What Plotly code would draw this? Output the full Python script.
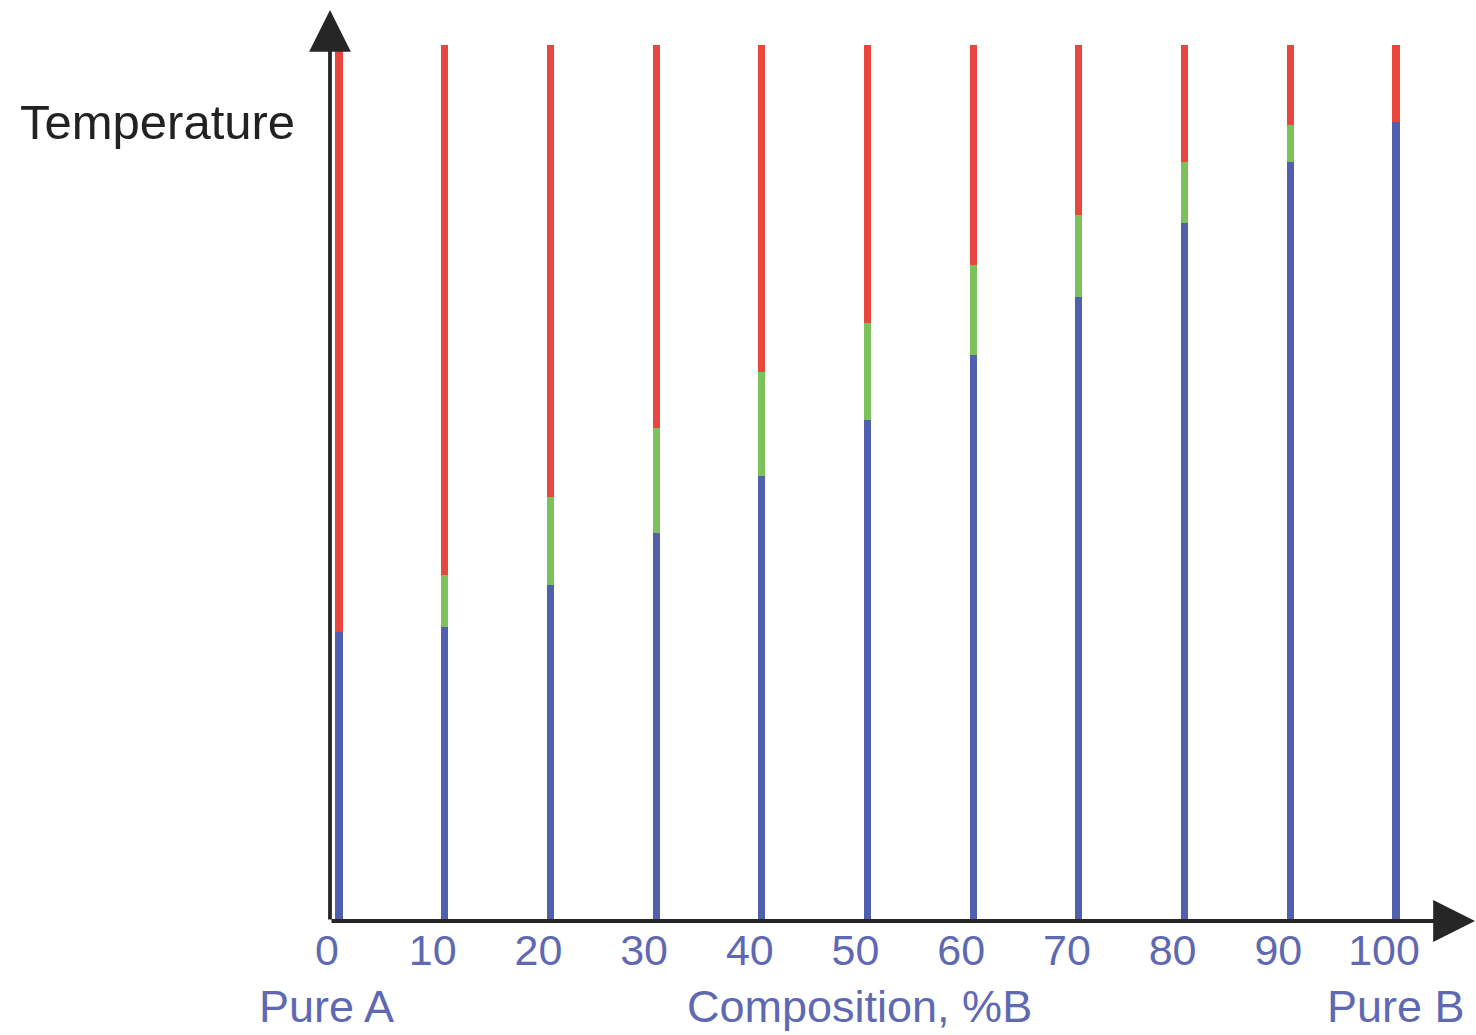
import plotly.graph_objects as go

# Composition of each alloy, % B
composition = [0, 10, 20, 30, 40, 50, 60, 70, 80, 90, 100]
# Solidus (start of melting) and liquidus (fully molten) temperatures, arbitrary units
solidus = [33.0, 33.6, 38.4, 44.3, 50.8, 57.2, 64.6, 71.2, 79.7, 86.6, 91.2]
liquidus = [33.0, 39.5, 48.4, 56.3, 62.7, 68.3, 74.9, 80.6, 86.6, 90.9, 91.2]
# Top of the temperature scan for every alloy
t_max = 100.0
tick_labels = [str(c) for c in composition]

SOLID = "#5060ae"
MUSHY = "#7cc25c"
LIQUID = "#e8473d"
AXIS = "#262626"
LABEL = "#5f69b2"
FONT = "Arial, Liberation Sans, sans-serif"

mushy_height = [l - s for s, l in zip(solidus, liquidus)]
liquid_height = [t_max - l for l in liquidus]

fig = go.Figure()
bar_w = 0.68
fig.add_trace(go.Bar(x=composition, y=solidus, width=bar_w, marker=dict(color=SOLID, line=dict(width=0)), name="solid"))
fig.add_trace(go.Bar(x=composition, y=mushy_height, width=bar_w, marker=dict(color=MUSHY, line=dict(width=0)), name="solid + liquid"))
fig.add_trace(go.Bar(x=composition, y=liquid_height, width=bar_w, marker=dict(color=LIQUID, line=dict(width=0)), name="liquid"))

W, H = 1476, 1035
ml, mr, mt, mb = 330, 36, 10, 114
plot_w = W - ml - mr
plot_h = H - mt - mb

# axis scaling: 10.57 px per % B, 8.76 px per temperature unit
x_lo = -9 / 10.57
x_hi = (plot_w - 9) / 10.57
y_hi = plot_h / 8.76

annotations = [
    # temperature axis with arrow
    dict(xref="paper", yref="paper", x=0, y=1, ax=0, ay=plot_h, axref="pixel", ayref="pixel",
         text="", showarrow=True, arrowhead=2, arrowsize=2.2, arrowwidth=3.8, arrowcolor=AXIS),
    # composition axis with arrow
    dict(xref="paper", yref="paper", x=(W - ml) / plot_w, y=0, ax=-(W - ml), ay=0, axref="pixel", ayref="pixel",
         text="", showarrow=True, arrowhead=2, arrowsize=2.2, arrowwidth=3.8, arrowcolor=AXIS),
    dict(xref="paper", yref="paper", x=(157 - ml) / plot_w, y=(H - mb - 122) / plot_h,
         text="Temperature", showarrow=False, xanchor="center", yanchor="middle",
         font=dict(family=FONT, size=49, color="#222222")),
    dict(xref="paper", yref="paper", x=(326 - ml) / plot_w, y=(H - mb - 1006) / plot_h,
         text="Pure A", showarrow=False, xanchor="center", yanchor="middle",
         font=dict(family=FONT, size=45, color=LABEL)),
    dict(xref="paper", yref="paper", x=(859 - ml) / plot_w, y=(H - mb - 1006) / plot_h,
         text="Composition, %B", showarrow=False, xanchor="center", yanchor="middle",
         font=dict(family=FONT, size=45, color=LABEL)),
    dict(xref="paper", yref="paper", x=(1396 - ml) / plot_w, y=(H - mb - 1006) / plot_h,
         text="Pure B", showarrow=False, xanchor="center", yanchor="middle",
         font=dict(family=FONT, size=45, color=LABEL)),
]

fig.update_layout(
    width=W, height=H,
    margin=dict(l=ml, r=mr, t=mt, b=mb, pad=0),
    paper_bgcolor="white", plot_bgcolor="white",
    barmode="stack", bargap=0, showlegend=False,
    annotations=annotations,
    xaxis=dict(range=[x_lo, x_hi], tickvals=composition, ticktext=tick_labels,
               showgrid=False, zeroline=False, showline=False, ticks="",
               ticklabelshift=-12, ticklabelstandoff=0,
               tickfont=dict(family=FONT, size=43, color=LABEL),
               fixedrange=True),
    yaxis=dict(range=[0, y_hi], visible=False, fixedrange=True),
)

fig.write_html("out.html")
